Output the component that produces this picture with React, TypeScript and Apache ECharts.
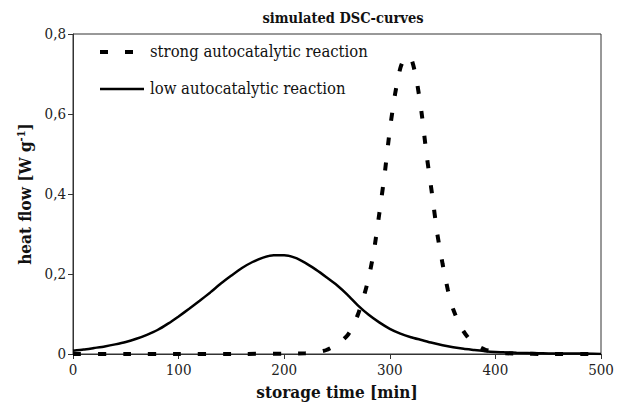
import React, { useEffect, useRef } from "react";
import * as echarts from "echarts";

const lowTime = [0,10,20,30,40,50,60,70,80,90,100,110,120,130,140,150,160,170,180,190,200,210,220,230,240,250,260,270,280,290,300,310,320,330,340,350,360,370,380,390,400,410,420,440,460,480,500];
const lowValues = [0.008,0.011,0.015,0.019,0.024,0.030,0.038,0.048,0.060,0.076,0.094,0.113,0.133,0.154,0.176,0.196,0.215,0.230,0.241,0.247,0.247,0.241,0.228,0.211,0.192,0.172,0.148,0.121,0.098,0.079,0.063,0.051,0.042,0.035,0.028,0.022,0.017,0.013,0.010,0.007,0.005,0.004,0.003,0.002,0.001,0.001,0.000];

const strongTime = [0,50,100,150,200,220,230,240,250,255,260,265,270,275,280,285,290,295,300,305,310,315,320,325,330,335,340,345,350,355,360,365,370,375,380,390,400,410,420,450,500];
const strongValues = [0.000,0.000,0.000,0.000,0.001,0.002,0.004,0.010,0.024,0.034,0.047,0.068,0.100,0.140,0.190,0.258,0.350,0.447,0.560,0.650,0.715,0.742,0.740,0.690,0.605,0.495,0.400,0.300,0.225,0.160,0.112,0.080,0.056,0.038,0.025,0.011,0.005,0.002,0.001,0.000,0.000];

const xTicks = [0, 100, 200, 300, 400, 500];
const yTicks = [0, 0.2, 0.4, 0.6, 0.8];

const seriesNames = ["strong autocatalytic reaction", "low autocatalytic reaction"];

const serif = "DejaVu Serif Condensed";

export default function App() {
  const ref = useRef<HTMLDivElement>(null);
  useEffect(() => {
    if (!ref.current) return;
    const chart = echarts.init(ref.current, null, { renderer: "svg" });
    const axisColor = "#333";
    const dash = [8, 17];
    chart.setOption({
      animation: false,
      backgroundColor: "#fff",
      title: {
        text: "simulated DSC-curves",
        left: 338,
        top: 5,
        textAlign: "center",
        textStyle: { fontFamily: serif, fontWeight: "bold", fontSize: 14.5, color: "#111" },
      },
      legend: { show: false, data: seriesNames },
      graphic: [
        {
          type: "line",
          shape: { x1: 100, y1: 52, x2: 134, y2: 52 },
          style: { stroke: "#000", lineWidth: 4, lineDash: dash },
        },
        {
          type: "text",
          left: 150,
          top: 43,
          style: { text: seriesNames[0], font: `16.5px ${serif}`, fill: "#111" },
        },
        {
          type: "line",
          shape: { x1: 100, y1: 89, x2: 144, y2: 89 },
          style: { stroke: "#000", lineWidth: 2.5 },
        },
        {
          type: "text",
          left: 150,
          top: 80,
          style: { text: seriesNames[1], font: `16.5px ${serif}`, fill: "#111" },
        },
      ],
      grid: {
        left: 73,
        right: 28,
        top: 34,
        bottom: 51,
        show: true,
        borderColor: axisColor,
        borderWidth: 1,
      },
      xAxis: {
        type: "value",
        min: xTicks[0],
        max: xTicks[xTicks.length - 1],
        interval: 100,
        name: "storage time [min]",
        nameLocation: "middle",
        nameGap: 29,
        nameTextStyle: { fontFamily: serif, fontWeight: "bold", fontSize: 17, color: "#111" },
        axisLine: { show: true, lineStyle: { color: axisColor, width: 1 } },
        axisTick: { show: true, inside: false, length: 5, lineStyle: { color: axisColor } },
        axisLabel: { fontFamily: serif, fontSize: 15, color: "#222", margin: 8 },
        splitLine: { show: false },
      },
      yAxis: {
        type: "value",
        min: yTicks[0],
        max: yTicks[yTicks.length - 1],
        interval: 0.2,
        name: "{b|heat flow [W g}{s|-1}{b|]}",
        nameLocation: "middle",
        nameGap: 38,
        nameTextStyle: {
          rich: {
            b: { fontFamily: serif, fontWeight: "bold", fontSize: 17, color: "#111" },
            s: { fontFamily: serif, fontWeight: "bold", fontSize: 11, color: "#111", verticalAlign: "top", padding: [0, 0, 8, 0] },
          },
        },
        axisLine: { show: true, lineStyle: { color: axisColor, width: 1 } },
        axisTick: { show: true, inside: false, length: 5, lineStyle: { color: axisColor } },
        axisLabel: {
          fontFamily: serif,
          fontSize: 15,
          color: "#222",
          margin: 7,
          formatter: (v: number) => (v === 0 ? "0" : String(Math.round(v * 10) / 10).replace(".", ",")),
        },
        splitLine: { show: false },
      },
      series: [
        {
          name: seriesNames[0],
          type: "line",
          data: strongTime.map((t, i) => [t, strongValues[i]]),
          smooth: 0.2,
          symbol: "none",
          lineStyle: { color: "#000", width: 4, type: dash },
          itemStyle: { color: "#000" },
          z: 3,
        },
        {
          name: seriesNames[1],
          type: "line",
          data: lowTime.map((t, i) => [t, lowValues[i]]),
          smooth: 0.2,
          symbol: "none",
          lineStyle: { color: "#000", width: 2.5 },
          itemStyle: { color: "#000" },
          z: 2,
        },
      ],
    });
    return () => chart.dispose();
  }, []);
  return <div ref={ref} style={{ width: 629, height: 405, position: "absolute", left: 0, top: 0 }} />;
}
